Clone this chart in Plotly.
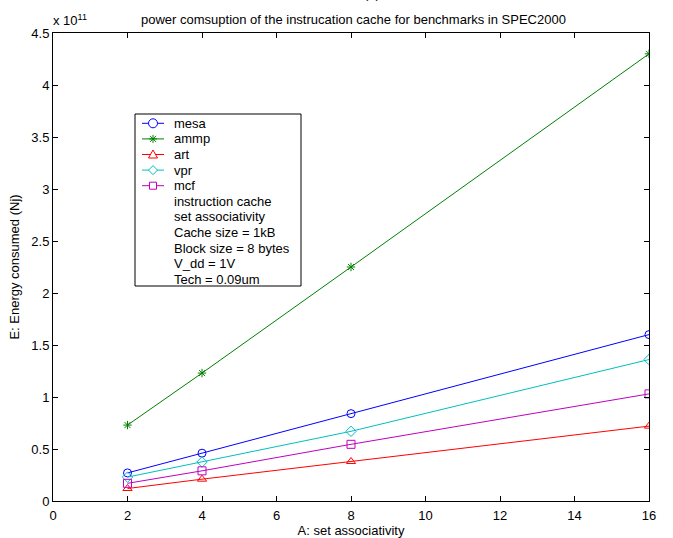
import plotly.graph_objects as go

assoc = [2, 4, 8, 16]
mesa = [0.27, 0.46, 0.84, 1.60]
ammp = [0.73, 1.23, 2.25, 4.30]
art = [0.12, 0.21, 0.38, 0.72]
vpr = [0.23, 0.375, 0.67, 1.36]
mcf = [0.17, 0.29, 0.545, 1.03]

series_names = ["mesa", "ammp", "art", "vpr", "mcf"]
series_values = [mesa, ammp, art, vpr, mcf]
series_colors = ["#0000ff", "#008000", "#ff0000", "#00bfbf", "#bf00bf"]
series_symbols = ["circle-open", "asterisk-open", "triangle-up-open", "diamond-open", "square-open"]
notes = ["instruction cache", "set associativity", "Cache size = 1kB",
         "Block size = 8 bytes", "V_dd = 1V", "Tech = 0.09um"]
x_ticks = list(range(0, 17, 2))
y_ticks = [0, 0.5, 1, 1.5, 2, 2.5, 3, 3.5, 4, 4.5]
y_ticktext = ["0", "0.5", "1", "1.5", "2", "2.5", "3", "3.5", "4", "4.5"]

FONT = "Liberation Sans, Arial, sans-serif"
FS = 13

W, H = 673, 538
L, R, T, B = 53, 24, 33, 37
pw, ph = W - L - R, H - T - B


def px(x):
    return (x - L) / pw


def py(y):
    return (H - B - y) / ph


fig = go.Figure()
for name, vals, color, sym in zip(series_names, series_values, series_colors, series_symbols):
    fig.add_trace(go.Scatter(
        x=assoc, y=vals, name=name, mode="lines+markers",
        line=dict(color=color, width=1),
        marker=dict(symbol=sym, size=8 if sym != "asterisk-open" else 7,
                    color=color, line=dict(width=1, color=color)),
    ))

axis_common = dict(
    showline=True, linecolor="black", linewidth=1, mirror="ticks",
    ticks="inside", ticklen=5, tickcolor="black", showgrid=False, zeroline=False,
    tickfont=dict(family=FONT, size=FS, color="black"), automargin=False,
)

fig.update_layout(
    width=W, height=H,
    margin=dict(l=L, r=R, t=T, b=B, autoexpand=False),
    paper_bgcolor="white", plot_bgcolor="white",
    font=dict(family=FONT, size=FS, color="black"),
    showlegend=False,
    xaxis=dict(range=[0, 16], tickvals=x_ticks, ticklabelstandoff=2,
               title=dict(text="A: set associativity", standoff=1,
                          font=dict(family=FONT, size=FS)), **axis_common),
    yaxis=dict(range=[0, 4.5], tickvals=y_ticks, ticktext=y_ticktext,
               title=dict(text="E: Energy consumed (Nj)", standoff=8,
                          font=dict(family=FONT, size=FS)), **axis_common),
)

fig.add_annotation(
    text="power comsuption of the instrucation cache for benchmarks in SPEC2000",
    xref="paper", yref="paper", x=px(353), y=py(19), xanchor="center", yanchor="middle",
    showarrow=False, font=dict(family=FONT, size=FS, color="black"))
fig.add_annotation(
    text="(a)", xref="paper", yref="paper", x=px(372), y=py(3), xanchor="center",
    yanchor="bottom", showarrow=False, font=dict(family=FONT, size=FS, color="black"))
fig.add_annotation(
    text="x 10<sup>11</sup>", xref="paper", yref="paper", x=px(51), y=py(20),
    xanchor="left", yanchor="middle", showarrow=False,
    font=dict(family=FONT, size=FS, color="black"))

# legend box (drawn manually to match the original row spacing)
fig.add_shape(type="rect", xref="paper", yref="paper",
              x0=px(135), x1=px(301), y0=py(286), y1=py(114),
              line=dict(color="black", width=1), fillcolor="white", layer="above")

row0, gap = 123.3, 15.6
glyph_paths = {
    "circle-open": None,
    "asterisk-open": "M-4,0 L4,0 M0,-4 L0,4 M-3,-3 L3,3 M-3,3 L3,-3",
    "triangle-up-open": "M-4.5,-3.5 L4.5,-3.5 L0,4.5 Z",
    "diamond-open": "M-4.5,0 L0,4.5 L4.5,0 L0,-4.5 Z",
    "square-open": "M-3.5,-3.5 L3.5,-3.5 L3.5,3.5 L-3.5,3.5 Z",
}
for i, (name, color, sym) in enumerate(zip(series_names, series_colors, series_symbols)):
    yy = row0 + gap * i
    fig.add_shape(type="line", xref="paper", yref="paper",
                  x0=px(142), x1=px(164), y0=py(yy), y1=py(yy),
                  line=dict(color=color, width=1), layer="above")
    if glyph_paths[sym] is None:
        fig.add_shape(type="circle", xref="paper", yref="paper",
                      xsizemode="pixel", ysizemode="pixel",
                      xanchor=px(153), yanchor=py(yy), x0=-4.5, x1=4.5, y0=-4.5, y1=4.5,
                      line=dict(color=color, width=1), fillcolor="white", layer="above")
    else:
        fig.add_shape(type="path", xref="paper", yref="paper",
                      xsizemode="pixel", ysizemode="pixel",
                      xanchor=px(153), yanchor=py(yy), path=glyph_paths[sym],
                      line=dict(color=color, width=1),
                      fillcolor="white" if sym != "asterisk-open" else None,
                      layer="above")
    fig.add_annotation(text=name, xref="paper", yref="paper", x=px(172), y=py(yy),
                       xanchor="left", yanchor="middle", showarrow=False,
                       font=dict(family=FONT, size=FS, color="black"))

for j, note in enumerate(notes):
    yy = row0 + gap * (len(series_names) + j)
    fig.add_annotation(text=note, xref="paper", yref="paper", x=px(172), y=py(yy),
                       xanchor="left", yanchor="middle", showarrow=False,
                       font=dict(family=FONT, size=FS, color="black"))

fig.write_html("out.html")
